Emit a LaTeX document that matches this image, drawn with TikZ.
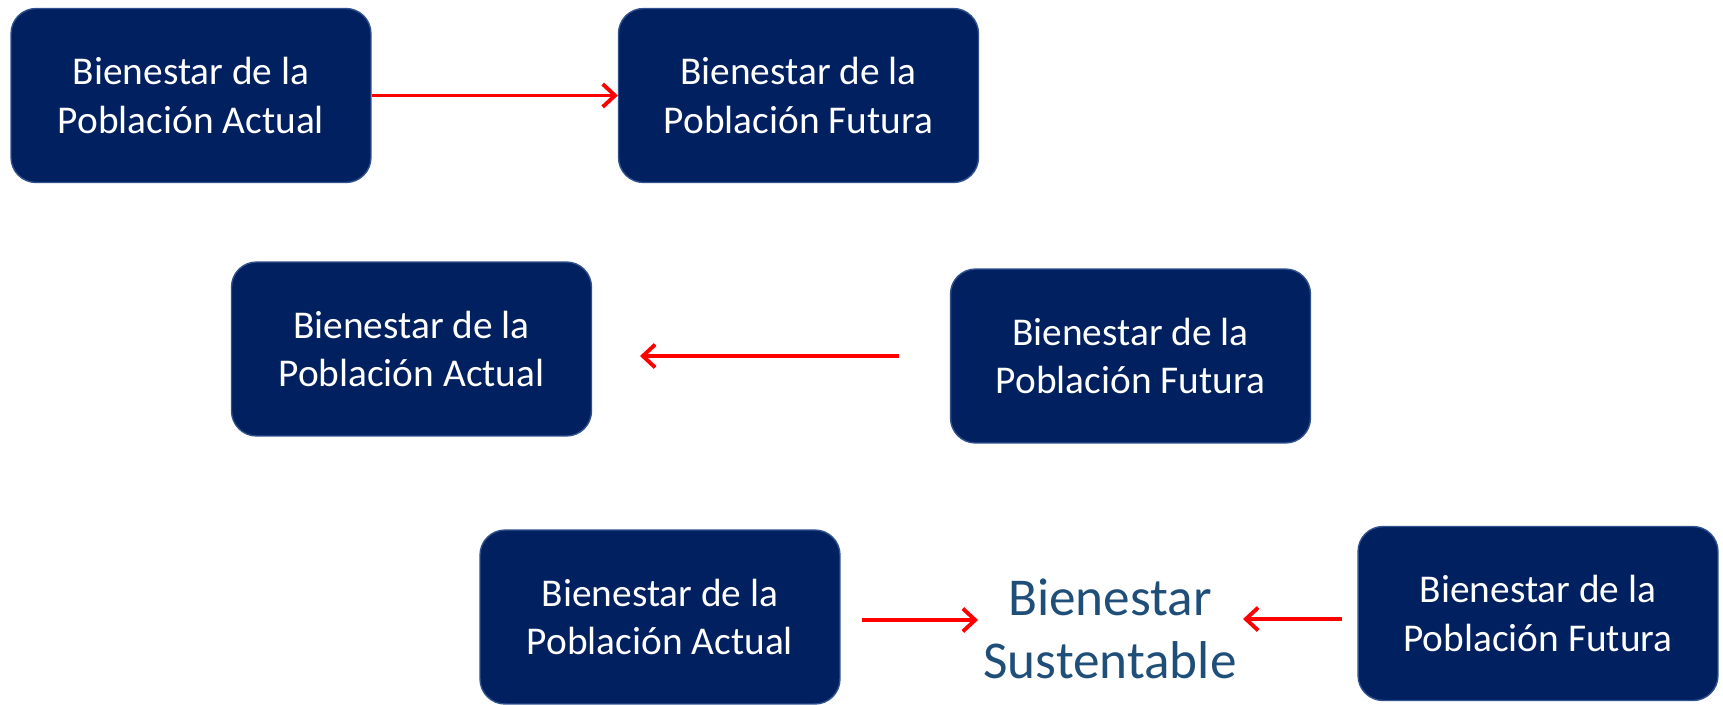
\documentclass[tikz,border=0pt]{standalone}
\usepackage{fontspec}
\setmainfont{Carlito}
\usetikzlibrary{arrows.meta}
\definecolor{navy}{HTML}{002060}
\definecolor{navyedge}{HTML}{2F528F}
\definecolor{sustblue}{HTML}{1F4E79}
\tikzset{
  bbox/.style = {
    fill=navy,
    draw=navyedge,
    line width=0.8pt,
    rounded corners=0.5cm,
    minimum width=7.2cm,
    minimum height=3.48cm,
    align=center,
    text=white,
    font=\fontsize{22.4}{27.6}\selectfont
  },
  redarrow/.style = {
    draw=red,
    line width=2.2pt,
    -{Straight Barb[length=7pt,width=13pt,line width=2.2pt]}
  }
}

\begin{document}
\begin{tikzpicture}[x=0.02cm,y=-0.02cm]
  \useasboundingbox (0,0) rectangle (1723,704);
  % row 1
  \node[bbox] (actual1) at (191,95.5) {Bienestar de la\\Población Actual};
  \node[bbox] (futura1) at (798.5,95.5) {Bienestar de la\\Población Futura};
  \draw[redarrow] (actual1.east) -- (futura1.west);
  % row 2
  \node[bbox] (actual2) at (411.5,349) {Bienestar de la\\Población Actual};
  \node[bbox] (futura2) at (1130.5,356) {Bienestar de la\\Población Futura};
  \coordinate (from2) at (899,356);
  \coordinate (to2) at (640,356);
  \draw[redarrow] (from2) -- (to2);
  % row 3
  \node[bbox] (actual3) at (660,617) {Bienestar de la\\Población Actual};
  \node[bbox] (futura3) at (1538,613.5) {Bienestar de la\\Población Futura};
  \node[text=sustblue,align=center,font=\fontsize{30.3}{36}\selectfont] (sust) at (1110,629) {Bienestar\\Sustentable};
  \coordinate (from3a) at (862,620);
  \coordinate (to3a) at (978,620);
  \coordinate (from3b) at (1342,619);
  \coordinate (to3b) at (1243,619);
  \draw[redarrow] (from3a) -- (to3a);
  \draw[redarrow] (from3b) -- (to3b);
\end{tikzpicture}
\end{document}
